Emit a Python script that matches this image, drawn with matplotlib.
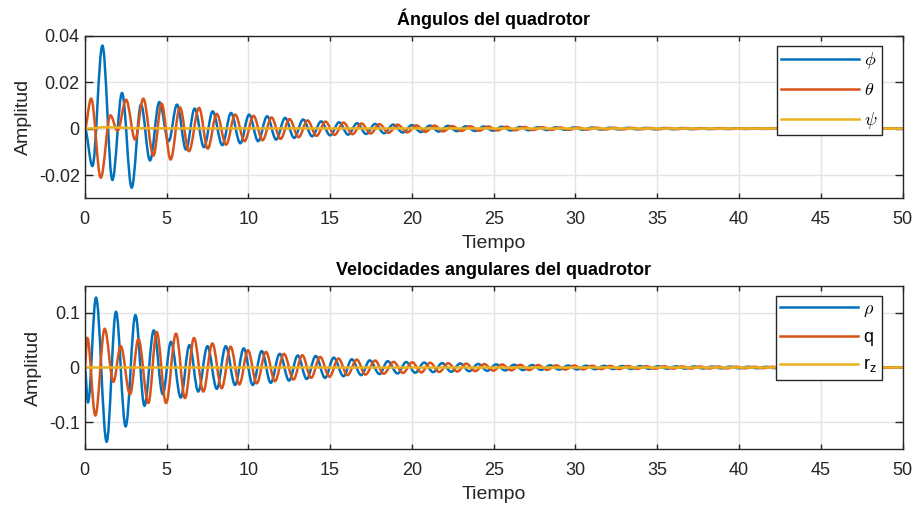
import matplotlib
matplotlib.use("Agg")
import matplotlib.pyplot as plt
from matplotlib.path import Path
from matplotlib.patches import PathPatch
from matplotlib.lines import Line2D

# extrema (time, value), alternating peak / trough
phi_t = [0, 0.47, 1.08, 1.69, 2.28, 2.87, 3.44, 3.99, 4.56, 5.13, 5.64, 6.19, 6.72, 7.29, 7.82, 8.41,
         8.94, 9.51, 10.05, 10.6, 11.15, 11.7, 12.25, 12.8, 13.35, 13.9, 14.45, 15.0, 15.55, 16.1,
         16.65, 17.2, 17.75, 18.3, 18.85, 19.45, 20.0, 20.55, 21.1, 21.65, 22.2, 22.75, 23.3, 23.85,
         24.4, 24.95, 25.5, 26.05, 26.6, 27.15, 27.7, 28.25, 28.8, 29.35, 29.9, 30.45, 31.0, 31.55,
         32.1, 32.65, 33.2, 33.75, 34.3, 34.85, 35.4, 35.95, 36.5, 37.05, 37.6, 38.15, 38.7, 39.25,
         39.8, 40.35, 40.9, 41.45, 42.0, 42.55, 43.1, 43.65, 44.2, 44.75, 45.3, 45.85, 46.4, 46.95,
         47.5, 48.05, 48.6, 49.15, 49.7, 50]
phi_v = [0, -0.0161, 0.0357, -0.0221, 0.0153, -0.0254, 0.0103, -0.0137, 0.0114, -0.0054, 0.0103,
         -0.009, 0.0086, -0.008, 0.0074, -0.0071, 0.0067, -0.0063, 0.006, -0.0054, 0.0053, -0.0047,
         0.0046, -0.004, 0.0039, -0.0033, 0.0031, -0.0029, 0.0027, -0.0026, 0.0023, -0.0023, 0.002,
         -0.002, 0.0017, -0.0017, 0.0015, -0.0015, 0.0013, -0.0013, 0.0012, -0.0011, 0.001, -0.001,
         0.0009, -0.0009, 0.0008, -0.0008, 0.0007, -0.0007, 0.0006, -0.0006, 0.00055, -0.0005, 0.0005,
         -0.00045, 0.00045, -0.0004, 0.0004, -0.00035, 0.00035, -0.0003, 0.0003, -0.0003, 0.00028,
         -0.00026, 0.00025, -0.00023, 0.00022, -0.0002, 0.0002, -0.00018, 0.00018, -0.00016, 0.00016,
         -0.00014, 0.00014, -0.00012, 0.00012, -0.0001, 0.0001, -0.00009, 0.00009, -0.00008, 0.00008,
         -0.00007, 0.00007, -0.00006, 0.00006, -0.00005, 0.00005, 0]

theta_t = [0, 0.39, 0.98, 1.57, 2.0, 2.53, 3.08, 3.58, 4.2, 4.7, 5.25, 5.82, 6.37, 6.99, 7.52, 8.07,
           8.64, 9.2, 9.77, 10.32, 10.87, 11.42, 11.97, 12.52, 13.07, 13.62, 14.17, 14.72, 15.27,
           15.82, 16.37, 16.92, 17.47, 18.02, 18.57, 19.12, 19.72, 20.27, 20.82, 21.37, 21.92, 22.47,
           23.02, 23.57, 24.12, 24.67, 25.22, 25.77, 26.32, 26.87, 27.42, 27.97, 28.52, 29.07, 29.62,
           30.17, 30.72, 31.27, 31.82, 32.37, 32.92, 33.47, 34.02, 34.57, 35.12, 35.67, 36.22, 36.77,
           37.32, 37.87, 38.42, 38.97, 39.52, 40.07, 40.62, 41.17, 41.72, 42.27, 42.82, 43.37, 43.92,
           44.47, 45.02, 45.57, 46.12, 46.67, 47.22, 47.77, 48.32, 48.87, 49.42, 50]
theta_v = [0, 0.0129, -0.0211, 0.0057, -0.0009, 0.0124, -0.0047, 0.0129, -0.0116, 0.0107, -0.0133,
           0.0091, -0.0097, 0.0089, -0.0086, 0.0063, -0.0069, 0.006, -0.0054, 0.0055, -0.005, 0.0048,
           -0.0044, 0.0041, -0.0037, 0.0035, -0.0031, 0.003, -0.0027, 0.0026, -0.0024, 0.0022, -0.0021,
           0.0019, -0.0018, 0.0017, -0.0016, 0.0014, -0.0014, 0.0013, -0.0012, 0.0011, -0.001, 0.001,
           -0.0009, 0.0009, -0.0008, 0.0008, -0.0007, 0.0007, -0.0006, 0.0006, -0.00055, 0.0005,
           -0.0005, 0.00045, -0.00042, 0.0004, -0.00038, 0.00035, -0.00033, 0.0003, -0.00029, 0.00027,
           -0.00026, 0.00024, -0.00023, 0.00021, -0.0002, 0.00019, -0.00018, 0.00017, -0.00016, 0.00015,
           -0.00014, 0.00013, -0.00012, 0.00011, -0.0001, 0.0001, -0.00009, 0.00008, -0.00008, 0.00007,
           -0.00006, 0.00006, -0.00005, 0.00005, -0.00004, 0.00004, -0.00003, 0]

psi_t = [0, 0.5, 1.1, 1.8, 3.0, 5.0, 50]
psi_v = [0, 0.0001, 0.0006, 0.0005, 0.0002, 0.0001, 0]

rho_t = [0, 0.2, 0.69, 1.34, 1.91, 2.5, 3.1, 3.65, 4.22, 4.77, 5.27, 5.87, 6.4, 6.94, 7.5, 8.07, 8.62,
         9.19, 9.72, 10.27, 10.82, 11.37, 11.92, 12.49, 13.02, 13.57, 14.12, 14.69, 15.22, 15.82,
         16.32, 16.9, 17.42, 18.02, 18.52, 19.12, 19.65, 20.2, 20.75, 21.3, 21.85, 22.4, 22.95, 23.5,
         24.05, 24.6, 25.15, 25.7, 26.25, 26.8, 27.35, 27.9, 28.45, 29.0, 29.55, 30.1, 30.65, 31.2,
         31.75, 32.3, 32.85, 33.4, 33.95, 34.5, 35.05, 35.6, 36.15, 36.7, 37.25, 37.8, 38.35, 38.9,
         39.45, 40.0, 40.55, 41.1, 41.65, 42.2, 42.75, 43.3, 43.85, 44.4, 44.95, 45.5, 46.05, 46.6,
         47.15, 47.7, 48.25, 48.8, 49.35, 49.9, 50]
rho_v = [0, -0.064, 0.128, -0.136, 0.102, -0.108, 0.096, -0.070, 0.068, -0.049, 0.047, -0.055, 0.041,
         -0.044, 0.039, -0.039, 0.039, -0.032, 0.035, -0.032, 0.030, -0.028, 0.025, -0.024, 0.022,
         -0.021, 0.021, -0.019, 0.018, -0.016, 0.015, -0.014, 0.013, -0.012, 0.0115, -0.011, 0.010,
         -0.0095, 0.009, -0.0085, 0.008, -0.0077, 0.0073, -0.0068, 0.0064, -0.006, 0.0057, -0.0054,
         0.0051, -0.0048, 0.0045, -0.0043, 0.004, -0.0038, 0.0036, -0.0035, 0.0033, -0.0031, 0.003,
         -0.0028, 0.0027, -0.0026, 0.0025, -0.0024, 0.0023, -0.0022, 0.0021, -0.002, 0.0019, -0.0018,
         0.0017, -0.0016, 0.0016, -0.0015, 0.0014, -0.0014, 0.0013, -0.0012, 0.0012, -0.0011, 0.0011,
         -0.001, 0.001, -0.0009, 0.0009, -0.0008, 0.0008, -0.0007, 0.0007, -0.0007, 0.0006, -0.0006, 0]

q_t = [0, 0.16, 0.65, 1.22, 1.75, 2.2, 2.77, 3.28, 3.89, 4.4, 4.97, 5.58, 6.13, 6.68, 7.25, 7.8, 8.37,
       8.92, 9.45, 9.98, 10.51, 11.08, 11.63, 12.18, 12.76, 13.3, 13.84, 14.39, 14.96, 15.51, 16.06,
       16.63, 17.16, 17.76, 18.27, 18.88, 19.45, 20.02, 20.57, 21.12, 21.67, 22.22, 22.77, 23.32,
       23.87, 24.42, 24.97, 25.52, 26.07, 26.62, 27.17, 27.72, 28.27, 28.82, 29.37, 29.92, 30.47,
       31.02, 31.57, 32.12, 32.67, 33.22, 33.77, 34.32, 34.87, 35.42, 35.97, 36.52, 37.07, 37.62,
       38.17, 38.72, 39.27, 39.82, 40.37, 40.92, 41.47, 42.02, 42.57, 43.12, 43.67, 44.22, 44.77,
       45.32, 45.87, 46.42, 46.97, 47.52, 48.07, 48.62, 49.17, 49.72, 50]
q_v = [0, 0.054, -0.088, 0.071, -0.026, 0.039, -0.049, 0.052, -0.065, 0.065, -0.065, 0.062, -0.056,
       0.054, -0.044, 0.044, -0.038, 0.038, -0.031, 0.0315, -0.029, 0.0285, -0.025, 0.025, -0.022,
       0.0224, -0.019, 0.0194, -0.017, 0.0164, -0.014, 0.0145, -0.013, 0.0127, -0.0115, 0.0103, -0.010,
       0.0095, -0.009, 0.0087, -0.0082, 0.0078, -0.0074, 0.007, -0.0066, 0.0062, -0.0058, 0.0055,
       -0.0052, 0.0049, -0.0046, 0.0044, -0.0042, 0.0039, -0.0037, 0.0035, -0.0034, 0.0032, -0.003,
       0.0029, -0.0028, 0.0026, -0.0025, 0.0024, -0.0023, 0.0022, -0.0021, 0.002, -0.0019, 0.0018,
       -0.0018, 0.0017, -0.0016, 0.0015, -0.0015, 0.0014, -0.0013, 0.0013, -0.0012, 0.0011, -0.0011,
       0.001, -0.001, 0.0009, -0.0009, 0.0008, -0.0008, 0.0007, -0.0007, 0.0007, -0.0006, 0.0006, 0]

rz_t = [0, 50]
rz_v = [0, 0]

top_labels = [r"$\phi$", r"$\theta$", r"$\psi$"]
bottom_labels = [r"$\rho$", "q", r"r$_\mathregular{z}$"]
colors = ["#0072BD", "#D95319", "#EDB120"]

plt.rcParams["font.family"] = ["Liberation Sans", "DejaVu Sans"]
plt.rcParams["mathtext.fontset"] = "cm"
plt.rcParams["axes.unicode_minus"] = False

DARK = "#262626"
LW = 1.8


def smooth_path(t, v, k=0.36):
    # half-cosine like bezier between consecutive extrema
    verts = [(t[0], v[0])]
    codes = [Path.MOVETO]
    for i in range(1, len(t)):
        dt = t[i] - t[i - 1]
        verts += [(t[i - 1] + k * dt, v[i - 1]), (t[i] - k * dt, v[i]), (t[i], v[i])]
        codes += [Path.CURVE4] * 3
    return Path(verts, codes)


def style_axes(ax, yticks, ylim):
    ax.set_xlim(0, 50)
    ax.set_ylim(*ylim)
    ax.set_xticks(range(0, 51, 5))
    ax.set_yticks(yticks)
    ax.grid(True, color="#e3e3e3", linewidth=1.0)
    ax.set_axisbelow(True)
    for s in ax.spines.values():
        s.set_color(DARK)
        s.set_linewidth(1.0)
    ax.tick_params(axis="both", direction="in", top=True, right=True, colors=DARK,
                   labelsize=13, width=1.0)
    ax.tick_params(axis="x", length=3.5, pad=9)
    ax.tick_params(axis="y", length=6, pad=3.5)
    ax.set_xlabel("Tiempo", fontsize=14, color=DARK, labelpad=5)
    ax.set_ylabel("Amplitud", fontsize=14, color=DARK, labelpad=5)


fig = plt.figure(figsize=(9.18, 5.07), dpi=100)
ax1 = fig.add_axes([0.0923, 0.6089, 0.8910, 0.3207])
ax2 = fig.add_axes([0.0923, 0.1138, 0.8910, 0.3227])

for ax, series, labels in [
    (ax1, [(phi_t, phi_v, True), (theta_t, theta_v, True), (psi_t, psi_v, False)], top_labels),
    (ax2, [(rho_t, rho_v, True), (q_t, q_v, True), (rz_t, rz_v, False)], bottom_labels),
]:
    handles = []
    for (t, v, curvy), c, lab in zip(series, colors, labels):
        if curvy:
            ax.add_patch(PathPatch(smooth_path(t, v), fill=False, edgecolor=c, linewidth=LW))
        else:
            ax.plot(t, v, color=c, linewidth=LW)
        handles.append(Line2D([], [], color=c, linewidth=LW, label=lab))
    leg = ax.legend(handles=handles, loc="upper right", bbox_to_anchor=(0.975, 0.9385),
                    borderaxespad=0, fancybox=False, edgecolor=DARK, fontsize=13,
                    handlelength=4.3, handletextpad=0.3, borderpad=0.25,
                    labelspacing=0.6, framealpha=1)
    leg.get_frame().set_linewidth(1.0)

style_axes(ax1, [-0.02, 0, 0.02, 0.04], (-0.03, 0.04))
style_axes(ax2, [-0.1, 0, 0.1], (-0.15, 0.15))
ax1.set_yticklabels(["-0.02", "0", "0.02", "0.04"])
ax2.set_yticklabels(["-0.1", "0", "0.1"])

ax1.set_title("Ángulos del quadrotor", fontsize=13, fontweight="bold", color="black", pad=8)
ax2.set_title("Velocidades angulares del quadrotor", fontsize=13, fontweight="bold",
              color="black", pad=8)

fig.savefig("out.png", dpi=100)
